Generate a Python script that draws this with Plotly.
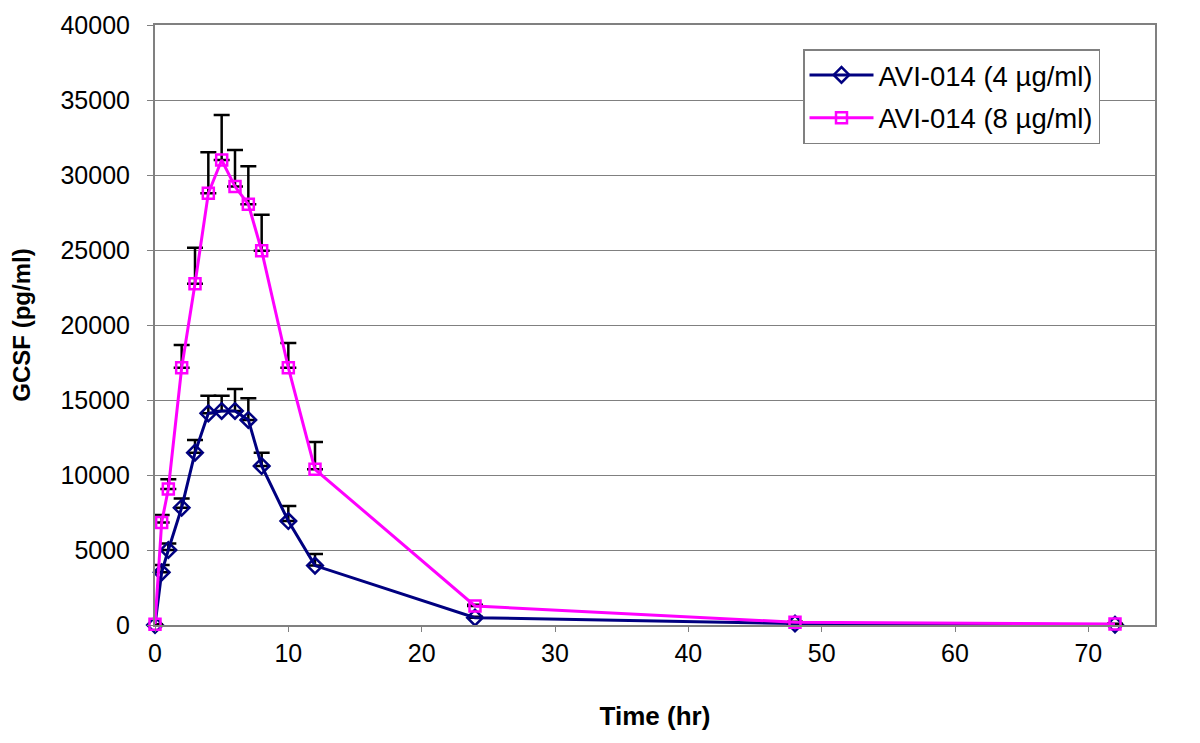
import plotly.graph_objects as go

time_hr = [0, 0.5, 1, 2, 3, 4, 5, 6, 7, 8, 10, 12, 24, 48, 72]
gcsf_4 = [0, 3510, 5000, 7820, 11490, 14110, 14270, 14270, 13670, 10600, 6930, 3960, 490, 100, 20]
err_4 = [0, 490, 440, 620, 840, 1180, 1020, 1460, 1440, 890, 1000, 770, 60, 20, 10]
gcsf_8 = [50, 6840, 9070, 17150, 22750, 28780, 31000, 29230, 28050, 24950, 17150, 10380, 1270, 180, 70]
err_8 = [0, 490, 640, 1520, 2400, 2730, 3000, 2440, 2530, 2400, 1650, 1820, 80, 30, 10]

x_ticks = [0, 10, 20, 30, 40, 50, 60, 70]
y_ticks = [0, 5000, 10000, 15000, 20000, 25000, 30000, 35000, 40000]

names = ["AVI-014 (4 µg/ml)", "AVI-014 (8 µg/ml)"]
colors = ["#000080", "#FF00FF"]

FONT = "Arial, Liberation Sans, sans-serif"

fig = go.Figure()
fig.add_trace(go.Scatter(
    x=time_hr, y=gcsf_4, name=names[0], mode="lines+markers", legendgroup="a",
    line=dict(color=colors[0], width=3),
    marker=dict(symbol="diamond-open", size=12, color=colors[0], line=dict(width=2.5, color=colors[0])),
    error_y=dict(type="data", array=err_4, arrayminus=[0]*len(err_4), symmetric=False,
                 color="black", thickness=2.5, width=8),
    cliponaxis=False,
))
fig.add_trace(go.Scatter(
    x=time_hr, y=gcsf_8, name=names[1], mode="lines+markers", legendgroup="b",
    line=dict(color=colors[1], width=3),
    marker=dict(symbol="square-open", size=11, color=colors[1], line=dict(width=2.5, color=colors[1])),
    error_y=dict(type="data", array=err_8, arrayminus=[0]*len(err_8), symmetric=False,
                 color="black", thickness=2.5, width=8),
    cliponaxis=False,
))

fig.update_layout(
    width=1200, height=743,
    margin=dict(l=147, r=53, t=17, b=126, autoexpand=False),
    paper_bgcolor="white", plot_bgcolor="white",
    font=dict(family=FONT, size=25, color="black"),
    showlegend=True,
    legend=dict(x=0.648, y=0.96, xanchor="left", yanchor="top",
                bgcolor="white", bordercolor="#808080", borderwidth=1.5,
                font=dict(family=FONT, size=27.5), itemwidth=64, tracegroupgap=4),
    xaxis=dict(range=[0, 75], tickvals=x_ticks, tickformat="d",
               showgrid=False, zeroline=False, showline=True, linecolor="#808080", linewidth=2,
               ticks="outside", ticklen=5, tickcolor="#808080", mirror=True, automargin=False,
               title=dict(text="<b>Time (hr)</b>", font=dict(family=FONT, size=26), standoff=41)),
    yaxis=dict(range=[0, 40000], tickvals=y_ticks, tickformat="d",
               showgrid=True, gridcolor="#808080", gridwidth=1, zeroline=False,
               showline=True, linecolor="#808080", linewidth=2, mirror=True, automargin=False,
               ticks="outside", ticklen=6, tickcolor="#808080", ticklabelstandoff=12,
               title=dict(text="<b>GCSF (pg/ml)</b>", font=dict(family=FONT, size=24), standoff=28)),
)

fig.write_html("out.html")
